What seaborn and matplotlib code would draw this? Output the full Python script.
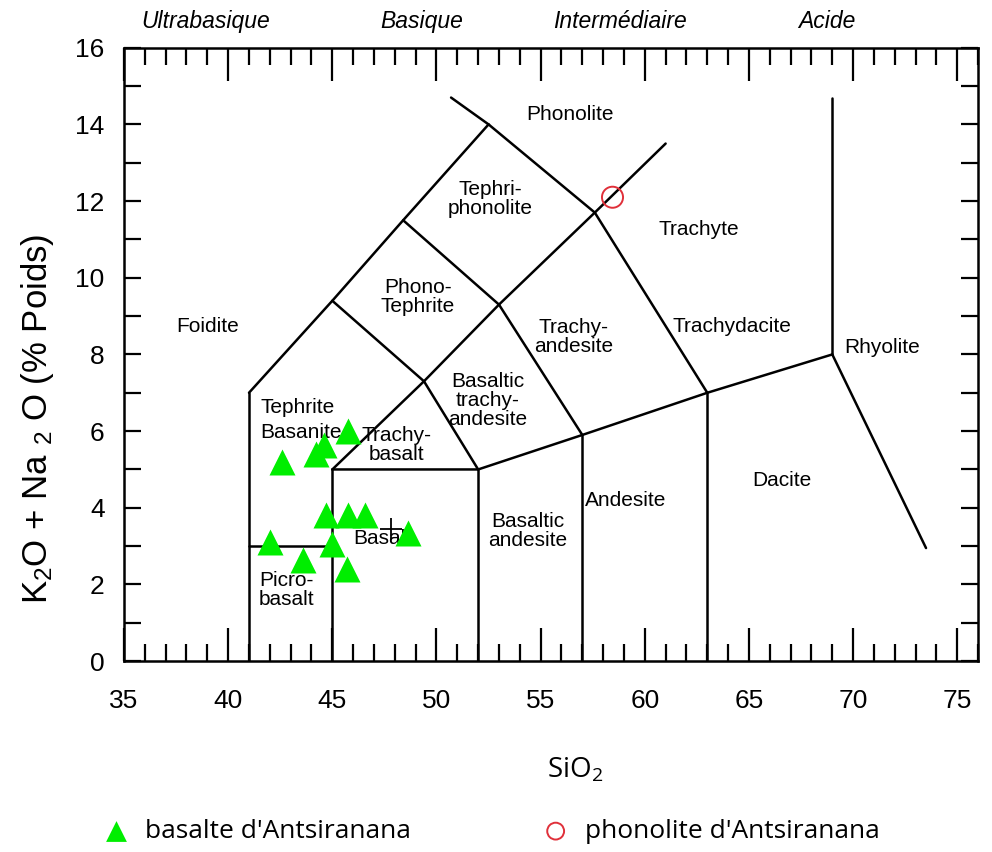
import matplotlib
matplotlib.use("Agg")
import matplotlib.pyplot as plt
import seaborn as sns
import pandas as pd
from matplotlib.ticker import MultipleLocator

# samples
basalt_sio2 = [42.6, 44.2, 44.6, 45.75, 44.7, 45.75, 46.55, 48.65, 42.0, 45.0, 43.6, 45.7]
basalt_alk = [5.2, 5.4, 5.65, 6.0, 3.8, 3.8, 3.8, 3.35, 3.1, 3.05, 2.65, 2.4]
phonolite_sio2 = [58.45]
phonolite_alk = [12.1]
cross_pt = (47.8, 3.45)

# TAS field boundaries (SiO2, Na2O+K2O)
boundaries = [
    [(41, 0), (41, 7)],
    [(41, 3), (45, 3)],
    [(45, 0), (45, 5)],
    [(45, 5), (52, 5), (57, 5.9), (63, 7), (69, 8)],
    [(52, 0), (52, 5)],
    [(57, 0), (57, 5.9)],
    [(63, 0), (63, 7)],
    [(69, 8), (73.5, 2.95)],
    [(69, 8), (69, 14.7)],
    [(41, 7), (45, 9.4), (48.4, 11.5), (52.5, 14), (50.7, 14.7)],
    [(45, 5), (49.4, 7.3), (53, 9.3), (57.6, 11.7), (61, 13.5)],
    [(49.4, 7.3), (52, 5)],
    [(45, 9.4), (49.4, 7.3)],
    [(53, 9.3), (57, 5.9)],
    [(48.4, 11.5), (53, 9.3)],
    [(52.5, 14), (57.6, 11.7), (63, 7)],
]

field_names = ["Phonolite", "Tephri-\nphonolite", "Trachyte", "Phono-\nTephrite", "Foidite",
               "Trachy-\nandesite", "Trachydacite", "Rhyolite", "Basaltic\ntrachy-\nandesite",
               "Trachy-\nbasalt", "Dacite", "Andesite", "Basaltic\nandesite", "Basalt",
               "Picro-\nbasalt"]
field_x = [56.4, 52.6, 62.6, 49.1, 39.0, 56.6, 64.2, 71.4, 52.45, 48.1, 66.6, 59.1, 54.4, 47.4, 42.8]
field_y = [14.26, 12.05, 11.25, 9.5, 8.72, 8.46, 8.72, 8.17, 6.8, 5.64, 4.7, 4.2, 3.4, 3.2, 1.85]

groups = ["Ultrabasique", "Basique", "Intermédiaire", "Acide"]
group_x = [38.9, 49.3, 58.8, 68.75]

sns.set_style("ticks")
plt.rcParams['font.family'] = ['Liberation Sans', 'DejaVu Sans']
plt.rcParams['mathtext.default'] = 'regular'
for k in ['text.color', 'axes.labelcolor', 'xtick.color', 'ytick.color', 'axes.edgecolor']:
    plt.rcParams[k] = 'black'

fig = plt.figure(figsize=(9.92, 8.52), dpi=100)
ax = fig.add_axes([0.125, 0.224, 0.861, 0.72])

for line in boundaries:
    xs, ys = zip(*line)
    ax.plot(xs, ys, color="black", lw=1.8, zorder=2, solid_joinstyle="miter")

for name, x, y in zip(field_names, field_x, field_y):
    ax.text(x, y, name, ha="center", va="center", fontsize=15, linespacing=1.0, zorder=3)
ax.text(41.55, 6.3, "Tephrite\nBasanite", ha="left", va="center", fontsize=15,
        linespacing=1.4, zorder=3)

ax.plot(*cross_pt, marker="+", color="black", ms=16, mew=1.3, zorder=3)

df_b = pd.DataFrame({"SiO2": basalt_sio2, "alk": basalt_alk})
df_p = pd.DataFrame({"SiO2": phonolite_sio2, "alk": phonolite_alk})
sns.scatterplot(data=df_b, x="SiO2", y="alk", marker="^", s=350, color="#00ee00",
                linewidth=0, ax=ax, zorder=4, label="basalte d'Antsiranana")
sns.scatterplot(data=df_p, x="SiO2", y="alk", marker="o", s=230, facecolor="none",
                edgecolor="#e0303a", linewidth=1.4, ax=ax, zorder=4,
                label="phonolite d'Antsiranana")

ax.set_xlim(35, 76)
ax.set_ylim(0, 16)
ax.xaxis.set_major_locator(MultipleLocator(5))
ax.xaxis.set_minor_locator(MultipleLocator(1))
ax.yaxis.set_major_locator(MultipleLocator(2))
ax.yaxis.set_minor_locator(MultipleLocator(1))
ax.tick_params(axis="x", which="major", direction="in", length=24, width=1.6,
               top=True, bottom=True, labelsize=19, pad=20)
ax.tick_params(axis="x", which="minor", direction="in", length=12, width=1.6, top=True, bottom=True)
ax.tick_params(axis="y", which="both", direction="in", length=12, width=1.6,
               left=True, right=True, labelsize=19, pad=14)
for s in ax.spines.values():
    s.set_linewidth(1.8)

for g, x in zip(groups, group_x):
    ax.text(x, 1.042, g, transform=ax.get_xaxis_transform(), ha="center", va="center",
            fontsize=16.5, style="italic")

ax.set_xlabel("SiO$_2$", fontsize=20, family="Open Sans")
ax.xaxis.set_label_coords(0.528, -0.155)
ax.set_ylabel("K$_2$O + Na $_2$ O (% Poids)", fontsize=25)
ax.yaxis.set_label_coords(-0.08, 0.395)

ax.legend_.remove()
h, l = ax.get_legend_handles_labels()
fig.legend(h, l, loc="center left", bbox_to_anchor=(0.066, 0.024), ncol=2, frameon=False,
           prop={"family": "Open Sans", "size": 19}, columnspacing=4.5, handletextpad=0.1,
           markerscale=0.8)

fig.savefig("out.png", dpi=100)
